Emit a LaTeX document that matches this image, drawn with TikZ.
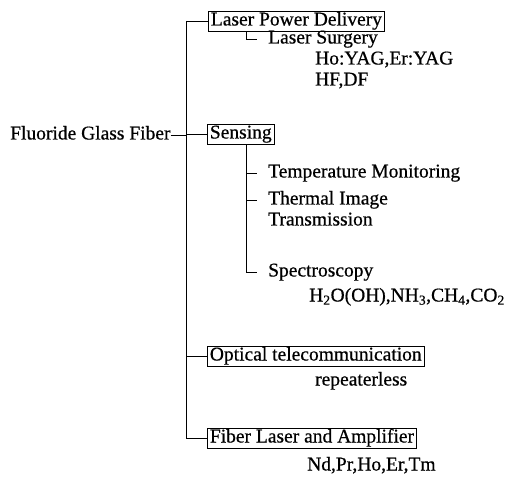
\documentclass[tikz,border=0pt]{standalone}
\usepackage{fontspec}
\setmainfont{Liberation Serif}[FakeBold=0.6]
\usetikzlibrary{positioning}
\tikzstyle{category} = [rectangle, draw=black, line width=0.8pt, inner xsep=2.5pt, inner ysep=1pt, text height=13.5pt, text depth=4.5pt, anchor=west]
\tikzstyle{item} = [inner sep=0pt, text height=13.5pt, text depth=4.5pt, anchor=west]
\tikzstyle{link} = [line width=0.9pt]
\tikzstyle{tick} = [link, shorten >=11pt]

\begin{document}
\begin{tikzpicture}[x=1pt, y=-1pt, font=\fontsize{19.5}{22}\selectfont]
    \useasboundingbox (0,0) rectangle (516,478);
    \coordinate (trunk) at (186,0);
    \coordinate (sub) at (246,0);

    \node (fiber) [item] at (10,135) {Fluoride Glass Fiber};

    \node (power) [category] at (208,21) {Laser Power Delivery};
    \node (surgery) [item] at (268,39) {Laser Surgery};
    \node (yag) [item] at (315,60) {Ho:YAG,Er:YAG};
    \node (hfdf) [item] at (315,81) {HF,DF};

    \node (sensing) [category] at (207,134) {Sensing};
    \node (temp) [item] at (268,173) {Temperature Monitoring};
    \node (thermal) [item] at (268,200) {Thermal Image};
    \node (transmission) [item] at (268,221) {Transmission};
    \node (spectro) [item] at (268,272) {Spectroscopy};
    \node (gases) [item] at (309,297) {H\textsubscript{2}O(OH),NH\textsubscript{3},CH\textsubscript{4},CO\textsubscript{2}};

    \node (telecom) [category] at (207,356) {Optical telecommunication};
    \node (repeater) [item] at (315,381) {repeaterless};

    \node (laser) [category] at (207,438) {Fiber Laser and Amplifier};
    \node (ions) [item] at (307,466) {Nd,Pr,Ho,Er,Tm};

    \draw [link] (fiber.east) -- (fiber -| trunk);
    \draw [link] (trunk |- power) -- (trunk |- laser);
    \draw [link] (trunk |- power) -- (power);
    \draw [link] (trunk |- sensing) -- (sensing);
    \draw [link] (trunk |- telecom) -- (telecom);
    \draw [link] (trunk |- laser) -- (laser);

    \draw [tick] (sub |- power.south) |- (surgery.west);
    \draw [link] (sub |- sensing.south) -- (sub |- spectro);
    \draw [tick] (sub |- temp) -- (temp.west);
    \draw [tick] (sub |- thermal) -- (thermal.west);
    \draw [tick] (sub |- spectro) -- (spectro.west);
\end{tikzpicture}
\end{document}
